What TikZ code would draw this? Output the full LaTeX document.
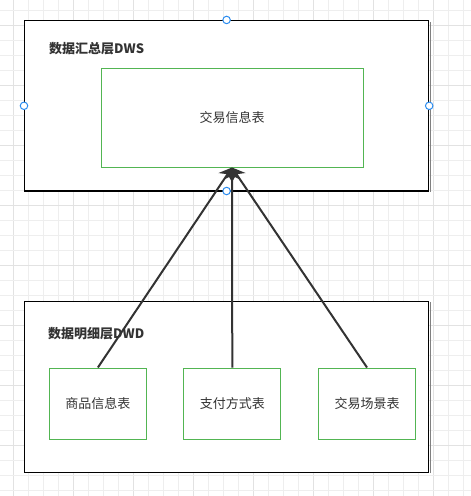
\documentclass[tikz,border=0pt]{standalone}
\usepackage{fontspec}
\newfontfamily\cjk{Noto Sans CJK SC}
\usetikzlibrary{arrows.meta}
\definecolor{gridlight}{HTML}{EEEEEE}
\definecolor{griddark}{HTML}{E2E2E2}
\definecolor{boxgreen}{HTML}{52B552}
\definecolor{txt}{HTML}{333333}
\definecolor{handle}{HTML}{2B8CF0}
\tikzset{
  layerbox/.style={draw=black, line width=1.2pt, fill=white, inner sep=0pt},
  tablebox/.style={draw=boxgreen, line width=1pt, fill=white, inner sep=0pt, text=txt, font=\cjk\fontsize{13}{15}\selectfont},
  layertitle/.style={anchor=west, inner sep=0pt, text=txt, font=\cjk\bfseries\fontsize{13}{15}\selectfont},
  link/.style={draw=txt, line width=2pt, -{Stealth[length=12pt,width=16pt]}},
  handledot/.style={draw=handle, line width=1pt, fill=white, circle, minimum size=7.5pt, inner sep=0pt},
  shadowline/.style={draw=gray, line width=1.5pt}
}
\begin{document}
\begin{tikzpicture}[x=1pt,y=-1pt]
\useasboundingbox (0,0) rectangle (471,496);
\fill[white] (0,0) rectangle (471,496);
% grid
\foreach \i in {0,...,31} {
  \pgfmathsetmacro\gx{13.3+15*\i}
  \pgfmathtruncatemacro\m{mod(\i,4)}
  \ifnum\m=0 \draw[griddark, line width=1pt] (\gx,0) -- (\gx,496);
  \else \draw[gridlight, line width=1pt] (\gx,0) -- (\gx,496); \fi
}
\foreach \j in {0,...,33} {
  \pgfmathsetmacro\gy{10+15*\j}
  \pgfmathtruncatemacro\m{mod(\j+3,4)}
  \ifnum\m=0 \draw[griddark, line width=1pt] (0,\gy) -- (471,\gy);
  \else \draw[gridlight, line width=1pt] (0,\gy) -- (471,\gy); \fi
}
% top layer
\draw[shadowline] (430.3,22) -- (430.3,192);
\node[layerbox, minimum width=404pt, minimum height=170.5pt] (dws) at (226.6,105.8) {};
\node[layertitle] (dwst) at (49,49) {数据汇总层DWS};
\node[tablebox, minimum width=262pt, minimum height=99pt] (xx) at (232,117.5) {交易信息表};
% bottom layer
\draw[shadowline] (430.3,302) -- (430.3,473);
\node[layerbox, minimum width=404pt, minimum height=171pt] (dwd) at (226.6,386.8) {};
\node[layertitle] (dwdt) at (48,334) {数据明细层DWD};
\node[tablebox, minimum width=97.5pt, minimum height=71pt] (b1) at (97.9,403.5) {商品信息表};
\node[tablebox, minimum width=97pt, minimum height=71pt] (b2) at (232.3,403.5) {支付方式表};
\node[tablebox, minimum width=97.5pt, minimum height=71pt] (b3) at (367,403.5) {交易场景表};
% links
\draw[link] (b1.north) -- (xx.south);
\draw[link] (b3.north) -- (xx.south);
\draw[link] (b2.north) -- (xx.south);
% handles
\node[handledot] (h1) at (dws.north) {};
\node[handledot] (h2) at (dws.west) {};
\node[handledot] (h3) at (dws.east) {};
\node[handledot] (h4) at (226.6,191) {};
\end{tikzpicture}
\end{document}
